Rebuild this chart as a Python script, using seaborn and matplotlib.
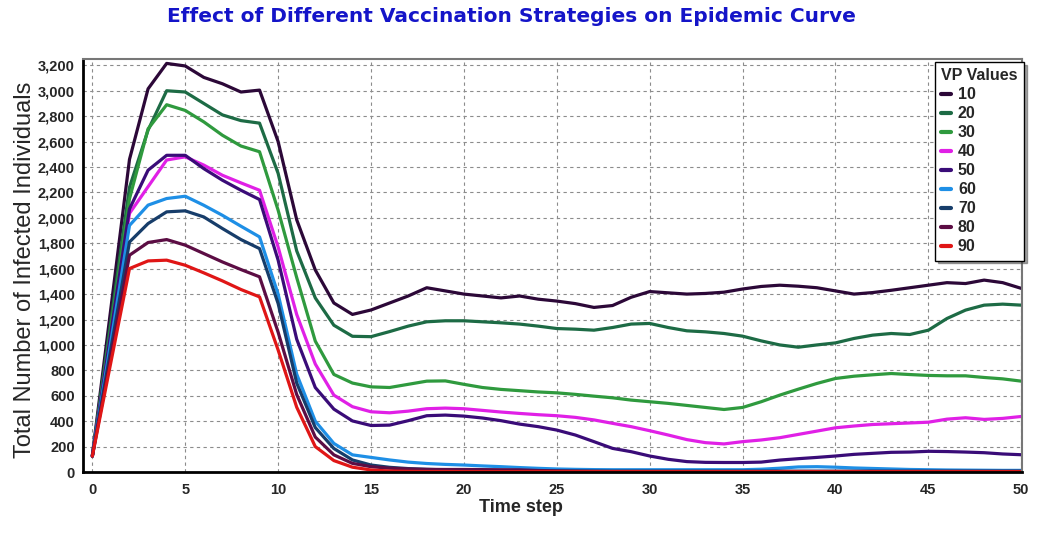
import numpy as np
import pandas as pd
import matplotlib
matplotlib.use("Agg")
import matplotlib.pyplot as plt
import seaborn as sns

# Time steps and infected counts per vaccination percentage (VP)
time_steps = list(range(51))

vp10 = [130, 1290, 2460, 3015, 3215, 3195, 3105, 3055, 2990, 3005,
        2600, 1985, 1590, 1330, 1240, 1275, 1330, 1385, 1450, 1425,
        1400, 1385, 1370, 1385, 1360, 1345, 1325, 1295, 1310, 1375,
        1420, 1410, 1400, 1405, 1415, 1440, 1460, 1470, 1462, 1450,
        1425, 1400, 1412, 1430, 1450, 1470, 1490, 1483, 1510, 1490, 1445]
vp20 = [130, 1190, 2240, 2690, 3000, 2990, 2900, 2810, 2765, 2745,
        2350, 1740, 1370, 1155, 1068, 1065, 1105, 1148, 1182, 1190,
        1190, 1182, 1174, 1164, 1148, 1129, 1124, 1116, 1137, 1164,
        1169, 1137, 1111, 1103, 1090, 1069, 1032, 1000, 982, 1000,
        1016, 1051, 1077, 1090, 1082, 1116, 1208, 1274, 1313, 1321, 1313]
vp30 = [125, 1140, 2150, 2700, 2890, 2845, 2755, 2650, 2565, 2520,
        2060, 1530, 1030, 768, 700, 670, 665, 690, 715, 717,
        690, 665, 650, 640, 630, 623, 611, 597, 584, 566,
        553, 540, 524, 508, 492, 508, 553, 605, 652, 697,
        736, 754, 765, 775, 767, 760, 757, 757, 744, 733, 715]
vp40 = [125, 1080, 2035, 2245, 2455, 2480, 2415, 2335, 2275, 2217,
        1770, 1240, 850, 605, 514, 474, 466, 479, 498, 503,
        498, 485, 472, 461, 451, 443, 430, 410, 383, 357,
        325, 291, 255, 231, 221, 239, 252, 270, 296, 322,
        348, 362, 374, 380, 386, 392, 416, 427, 414, 422, 437]
vp50 = [125, 1100, 2070, 2375, 2492, 2492, 2387, 2296, 2217, 2144,
        1667, 1045, 665, 495, 402, 366, 369, 404, 443, 448,
        440, 425, 404, 377, 357, 330, 291, 239, 186, 160,
        126, 100, 82, 76, 75, 75, 78, 94, 105, 115,
        126, 139, 147, 155, 157, 163, 161, 157, 152, 142, 136]
vp60 = [125, 1030, 1940, 2100, 2152, 2170, 2099, 2020, 1934, 1850,
        1400, 770, 400, 225, 135, 115, 95, 78, 67, 60,
        55, 48, 42, 35, 29, 24, 21, 19, 18, 18,
        18, 18, 18, 18, 18, 18, 22, 30, 40, 42,
        38, 32, 28, 24, 20, 18, 16, 15, 14, 13, 13]
vp70 = [125, 970, 1810, 1955, 2047, 2055, 2007, 1916, 1829, 1758,
        1326, 700, 350, 185, 95, 55, 37, 27, 21, 17,
        14, 12, 10, 9, 8, 7, 7, 6, 6, 6,
        6, 6, 6, 6, 6, 6, 6, 6, 6, 6,
        6, 6, 6, 6, 6, 6, 6, 6, 6, 6, 6]
vp80 = [125, 915, 1706, 1806, 1829, 1785, 1719, 1653, 1593, 1536,
        1100, 610, 275, 135, 68, 42, 30, 24, 21, 20,
        20, 19, 18, 17, 12, 9, 7, 6, 5, 5,
        5, 5, 5, 5, 5, 5, 5, 5, 5, 5,
        5, 5, 5, 5, 5, 5, 5, 5, 5, 5, 5]
vp90 = [125, 865, 1601, 1661, 1667, 1627, 1567, 1504, 1436, 1378,
        960, 510, 200, 90, 38, 16, 8, 5, 4, 4,
        3, 3, 3, 3, 3, 3, 3, 3, 3, 3,
        3, 3, 3, 3, 3, 3, 3, 3, 3, 3,
        3, 3, 3, 3, 3, 3, 3, 3, 3, 3, 3]

vp_labels = ["10", "20", "30", "40", "50", "60", "70", "80", "90"]
series = [vp10, vp20, vp30, vp40, vp50, vp60, vp70, vp80, vp90]
colors = ["#2c0838", "#1d6b45", "#2f9a3e", "#e020e6", "#3a0c78",
          "#1e8fe6", "#173d6a", "#5c0d44", "#e01616"]

x_ticks = list(range(0, 51, 5))
y_ticks = list(range(0, 3201, 200))

df = pd.DataFrame({
    "Time step": np.tile(time_steps, len(series)),
    "Infected": np.concatenate(series),
    "VP": np.repeat(vp_labels, len(time_steps)),
})

sns.set_style("white")
plt.rcParams["font.family"] = ["Liberation Sans", "DejaVu Sans"]

fig = plt.figure(figsize=(10.42, 5.41), dpi=100)
ax = fig.add_axes([0.0797, 0.1275, 0.9013, 0.7635])

sns.lineplot(data=df, x="Time step", y="Infected", hue="VP",
             hue_order=vp_labels, palette=colors, linewidth=2.3,
             ax=ax, legend=True)

ax.set_xlim(-0.5, 50.05)
ax.set_ylim(0, 3250)
ax.set_xticks(x_ticks)
ax.set_xticks(time_steps, minor=True)
ax.set_yticks(y_ticks)
ax.set_yticklabels([f"{v:,}" for v in y_ticks])
for lbl in ax.get_xticklabels() + ax.get_yticklabels():
    lbl.set_fontweight("bold")
    lbl.set_fontsize(10.5)

ax.grid(True, which="major", linestyle=(0, (3, 3)), color="#8c8c8c",
        linewidth=0.8)
ax.tick_params(axis="x", which="major", direction="out", length=4,
               width=1, color="black", pad=4)
ax.tick_params(axis="x", which="minor", direction="out", length=3,
               width=0.8, color="#555555")
ax.tick_params(axis="y", which="major", direction="out", length=3,
               width=1, color="black", pad=3)

for side in ["left", "bottom"]:
    ax.spines[side].set_color("black")
    ax.spines[side].set_linewidth(2)
for side in ["top", "right"]:
    ax.spines[side].set_color("#777777")
    ax.spines[side].set_linewidth(1.5)

ax.set_xlabel("Time step", fontsize=13, fontweight="bold")
ax.xaxis.set_label_coords(0.466, -0.065)
ax.set_ylabel("Total Number of Infected Individuals", fontsize=17)
ax.yaxis.set_label_coords(-0.05, 0.49)

fig.suptitle("Effect of Different Vaccination Strategies on Epidemic Curve",
             x=0.491, y=0.987, fontsize=14.5, fontweight="bold",
             color="#1414c8", family="DejaVu Sans")

leg = ax.legend(title="VP Values", loc="upper right",
                bbox_to_anchor=(1.002, 0.993), borderaxespad=0,
                frameon=True, fancybox=False, shadow=True,
                handlelength=0.6, handletextpad=0.45,
                labelspacing=0.25, borderpad=0.4, alignment="left",
                prop={"weight": "bold", "size": 11.5})
leg.get_title().set_fontweight("bold")
leg.get_title().set_fontsize(11.5)
leg.get_frame().set_edgecolor("black")
leg.get_frame().set_linewidth(1.0)
for line in leg.get_lines():
    line.set_linewidth(3)

fig.savefig("out.png", dpi=100)
